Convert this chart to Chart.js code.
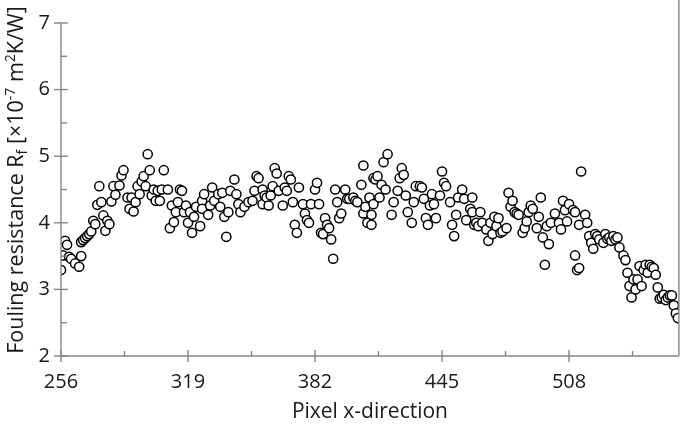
<!DOCTYPE html>
<html>
<head>
<meta charset="utf-8">
<script src="https://cdn.jsdelivr.net/npm/chart.js@4.4.1/dist/chart.umd.min.js"></script>
<style>
html,body{margin:0;padding:0;background:#fff;}
#wrap{width:685px;height:432px;position:relative;}
</style>
</head>
<body>
<div id="wrap"><canvas id="c" width="685" height="432"></canvas></div>
<script>
// ---- data ----
const pixelX = [256,257,258,259,260,261,263,265,266,266,267,268,269,270,271,272,273,274,275,276,277,278,279,280,281,282,283,285,286,287,289,290,291,292,293,294,295,296,297,298,299,300,301,302,303,304,305,306,307,309,310,311,312,313,314,315,316,317,318,319,320,321,322,323,325,326,326,327,329,330,331,332,334,335,336,337,338,339,340,342,343,344,345,347,349,351,352,353,354,356,356,357,358,359,360,361,362,363,364,366,367,368,369,370,371,372,373,374,376,377,378,379,380,382,383,384,385,386,387,388,389,390,391,392,393,394,395,397,398,399,401,402,403,405,406,406,407,408,409,410,410,411,411,412,413,414,415,416,417,418,420,421,423,424,425,426,427,428,430,431,432,434,435,436,437,438,439,440,441,442,444,445,446,447,449,450,451,452,453,455,456,457,459,460,460,461,462,463,464,465,467,468,469,470,471,472,473,474,475,477,478,479,480,481,482,483,485,486,487,488,489,490,492,493,494,495,496,497,498,499,501,503,504,505,506,507,508,510,511,511,512,513,513,514,516,517,518,519,520,521,522,523,525,526,527,528,529,530,531,532,533,535,536,537,538,539,540,541,542,543,544,545,546,547,548,549,550,551,552,553,554,555,556,557,558,559,560,561,562];
const foulingResistance = [3.29,3.51,3.73,3.67,3.49,3.46,3.39,3.34,3.50,3.71,3.74,3.77,3.80,3.83,3.87,4.03,3.98,4.27,4.55,4.31,4.11,3.88,4.03,3.98,4.32,4.55,4.42,4.56,4.71,4.79,4.38,4.21,4.38,4.17,4.31,4.55,4.43,4.62,4.70,4.55,5.03,4.79,4.41,4.50,4.33,4.48,4.33,4.50,4.79,4.50,3.92,4.26,4.01,4.16,4.31,4.50,4.48,4.16,4.26,4.00,4.16,3.85,4.09,4.24,3.95,4.33,4.21,4.43,4.12,4.26,4.53,4.33,4.43,4.24,4.45,4.09,3.79,4.16,4.48,4.65,4.43,4.28,4.16,4.24,4.31,4.33,4.48,4.70,4.67,4.50,4.28,4.41,4.38,4.26,4.41,4.55,4.82,4.74,4.48,4.26,4.53,4.48,4.70,4.65,4.31,3.97,3.85,4.53,4.28,4.14,4.04,4.00,4.28,4.50,4.60,4.28,3.85,3.83,4.07,3.97,3.92,3.75,3.46,4.50,4.31,4.07,4.14,4.50,4.36,4.36,4.38,4.33,4.31,4.57,4.86,4.14,4.24,4.00,4.38,4.12,3.97,4.67,4.28,4.65,4.70,4.38,4.57,4.91,4.50,5.03,4.12,4.31,4.48,4.67,4.82,4.72,4.41,4.16,4.00,4.31,4.55,4.55,4.53,4.36,4.07,3.97,4.26,4.43,4.28,4.07,4.41,4.77,4.60,4.55,4.31,3.97,3.80,4.12,4.38,4.50,4.36,4.04,4.21,4.38,4.16,3.97,4.00,3.95,4.16,4.00,3.90,3.73,4.00,3.83,4.09,3.95,4.07,3.85,3.87,3.92,4.45,4.24,4.33,4.16,4.14,4.12,3.85,3.92,4.02,4.16,4.26,4.21,3.92,4.09,4.38,3.78,3.37,3.95,3.68,4.00,4.14,4.00,3.90,4.33,4.19,4.02,4.28,4.19,3.51,4.16,3.29,3.32,3.97,4.77,4.12,4.00,3.80,3.70,3.61,3.83,3.80,3.75,3.70,3.83,3.76,3.78,3.73,3.80,3.75,3.78,3.63,3.51,3.44,3.25,3.05,2.88,3.15,3.00,3.15,3.35,3.05,3.29,3.37,3.25,3.37,3.34,3.32,3.22,3.03,2.86,2.88,2.92,2.84,2.88,2.91,2.91,2.76,2.64,2.57];
const xTickLabels = [256,319,382,445,508];
const xMinorTicks = [287.5,350.5,413.5,476.5,539.5];
const yTickLabels = [2,3,4,5,6,7];
const yMinorTicks = [2.5,3.5,4.5,5.5,6.5];
const xTitle = 'Pixel x-direction';
const yTitleParts = [['Fouling resistance R','n'],['f','sub'],[' [×10','n'],['-7','sup'],[' m','n'],['2','sup'],['K/W]','n']];

const points = pixelX.map((v,i)=>({x:v, y:foulingResistance[i]}));
const FONT = '"Open Sans", sans-serif';
const AXIS = '#858585';

const axesPlugin = {
  id:'axesPlugin',
  afterDatasetsDraw(chart){
    const {ctx, chartArea:a, scales:{x,y}} = chart;
    ctx.save();
    ctx.strokeStyle = AXIS; ctx.lineWidth = 1.4;
    const ln=(x1,y1,x2,y2)=>{ctx.beginPath();ctx.moveTo(x1,y1);ctx.lineTo(x2,y2);ctx.stroke();};
    ln(a.left,a.top,a.left,a.bottom);
    ln(a.left,a.bottom,a.right,a.bottom);
    ln(a.right,0,a.right,a.bottom);
    xTickLabels.forEach(v=>{const p=x.getPixelForValue(v); ln(p,a.bottom-6,p,a.bottom+6);});
    xMinorTicks.forEach(v=>{const p=x.getPixelForValue(v); ln(p,a.bottom-5,p,a.bottom);});
    yTickLabels.forEach(v=>{const p=y.getPixelForValue(v); ln(a.left-7,p,a.left+7,p);});
    yMinorTicks.forEach(v=>{const p=y.getPixelForValue(v); ln(a.left,p,a.left+6,p);});
    // y title
    ctx.fillStyle = '#1a1a1a';
    ctx.textBaseline = 'alphabetic';
    ctx.textAlign = 'left';
    const big = '21.5px '+FONT, small = '14px '+FONT;
    let total = 0;
    yTitleParts.forEach(([t,k])=>{ctx.font = k==='n'?big:small; total += ctx.measureText(t).width;});
    ctx.translate(23,180);
    ctx.rotate(-Math.PI/2);
    let cx = -total/2;
    yTitleParts.forEach(([t,k])=>{
      ctx.font = k==='n'?big:small;
      const dy = k==='sub'?4:(k==='sup'?-8:0);
      ctx.fillText(t,cx,dy);
      cx += ctx.measureText(t).width;
    });
    ctx.restore();
  }
};

new Chart(document.getElementById('c'),{
  type:'scatter',
  data:{datasets:[{data:points,pointRadius:4.6,pointHoverRadius:4.6,borderWidth:1.5,borderColor:'#000',backgroundColor:'#fff',pointStyle:'circle'}]},
  options:{
    responsive:false,animation:false,
    layout:{padding:{top:11,right:6,left:0,bottom:0}},
    plugins:{legend:{display:false},tooltip:{enabled:false}},
    scales:{
      x:{type:'linear',min:256,max:562.5,
        grid:{display:false,drawTicks:false},border:{display:false},
        afterBuildTicks(s){s.ticks = xTickLabels.map(v=>({value:v}));},
        ticks:{color:'#1a1a1a',font:{family:FONT,size:20},padding:14,maxRotation:0,autoSkip:false},
        title:{display:true,text:xTitle,color:'#1a1a1a',font:{family:FONT,size:21},padding:{top:0,bottom:7}},
        afterFit(s){s.height = 76;}
      },
      y:{type:'linear',min:2,max:7,
        grid:{display:false,drawTicks:false},border:{display:false},
        afterBuildTicks(s){s.ticks = yTickLabels.map(v=>({value:v}));},
        ticks:{color:'#1a1a1a',font:{family:FONT,size:20},padding:11},
        afterFit(s){s.width = 61;}
      }
    }
  },
  plugins:[axesPlugin]
});
</script>
</body>
</html>
